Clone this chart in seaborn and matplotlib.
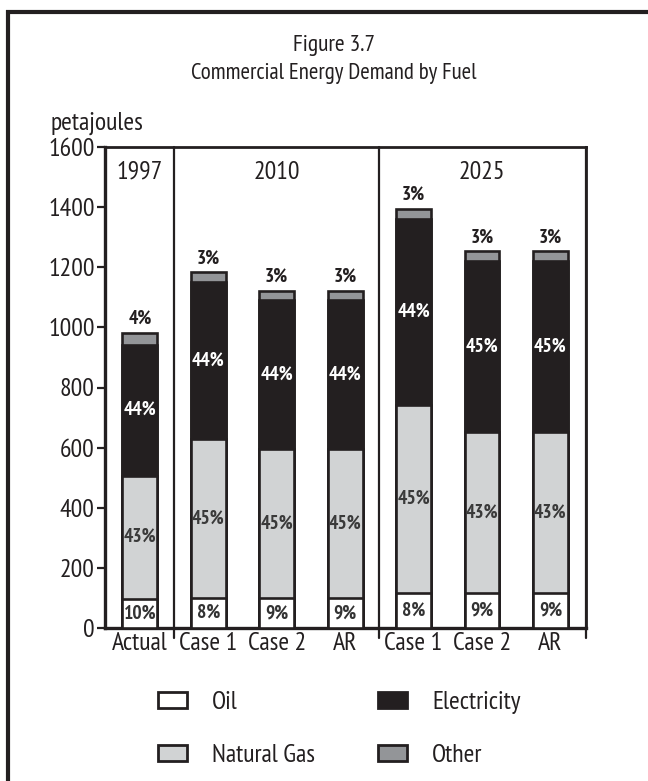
import matplotlib
matplotlib.use("Agg")
import matplotlib.pyplot as plt
from matplotlib.patches import Patch
from matplotlib.lines import Line2D
import seaborn as sns
import pandas as pd

# ---- data ----
bar_ids = ["1997 Actual", "2010 Case 1", "2010 Case 2", "2010 AR",
           "2025 Case 1", "2025 Case 2", "2025 AR"]
tick_labels = ["Actual", "Case 1", "Case 2", "AR", "Case 1", "Case 2", "AR"]
year_labels = ["1997", "2010", "2025"]
oil = [97, 99, 99, 99, 117, 117, 117]
natural_gas = [410, 530, 496, 496, 624, 535, 535]
electricity = [436, 521, 497, 497, 620, 568, 568]
other = [39, 33, 30, 30, 33, 33, 33]
oil_pct = ["10%", "8%", "9%", "9%", "8%", "9%", "9%"]
gas_pct = ["43%", "45%", "45%", "45%", "45%", "43%", "43%"]
elec_pct = ["44%", "44%", "44%", "44%", "44%", "45%", "45%"]
other_pct = ["4%", "3%", "3%", "3%", "3%", "3%", "3%"]
yticks = [0, 200, 400, 600, 800, 1000, 1200, 1400, 1600]

sns.set_theme(style="white")
plt.rcParams["font.family"] = ["PT Sans Narrow", "DejaVu Sans"]
plt.rcParams["font.stretch"] = "condensed"

INK = "#231f20"
C_OIL = "#ffffff"
C_GAS = "#d1d3d4"
C_ELEC = "#231f20"
C_OTHER = "#939598"

df = pd.DataFrame({"bar": bar_ids, "oil": oil, "gas": natural_gas,
                   "elec": electricity, "other": other})
df["c_gas"] = df["oil"] + df["gas"]
df["c_elec"] = df["c_gas"] + df["elec"]
df["c_other"] = df["c_elec"] + df["other"]

fig = plt.figure(figsize=(6.48, 7.81), dpi=100)
ax = fig.add_axes([105/648, 1-628/781, (586-105)/648, (628-147)/781])

bw = 0.51
lw = 1.9
for col, colr in [("c_other", C_OTHER), ("c_elec", C_ELEC), ("c_gas", C_GAS), ("oil", C_OIL)]:
    sns.barplot(data=df, x="bar", y=col, order=bar_ids, color=colr, width=bw,
                edgecolor=INK, linewidth=lw, saturation=1, ax=ax, zorder=3)

FS = 18.5
ax.set_xlim(-0.51, 6.52)
ax.set_ylim(0, 1600)
ax.set_yticks(yticks)
ax.set_yticklabels([str(v) for v in yticks])
ax.set_xticks(range(len(bar_ids)))
ax.set_xticklabels(tick_labels)
ax.set_xlabel("")
ax.set_ylabel("")
ax.tick_params(axis="y", direction="out", length=6, width=1.6, color=INK,
               labelsize=FS, pad=1.5, labelcolor=INK, left=True)
ax.tick_params(axis="x", length=0, labelsize=FS, pad=3.2, labelcolor=INK)
for s in ax.spines.values():
    s.set_color(INK)
    s.set_linewidth(2.0)
ax.spines["left"].set_linewidth(2.4)
ax.spines["bottom"].set_linewidth(2.4)

for xv in [0.5, 3.5, 6.52]:
    ax.axvline(xv, ymin=-0.02, ymax=1, color=INK, lw=1.6, clip_on=False, zorder=4)

for xc, t in zip([0, 2, 5], year_labels):
    ax.text(xc, 0.948, t, transform=ax.get_xaxis_transform(), ha="center",
            va="center", fontsize=FS, color=INK)

PS = 14
for i in range(len(bar_ids)):
    o = df["oil"][i]; g = df["c_gas"][i]; e = df["c_elec"][i]; t = df["c_other"][i]
    ax.text(i, o/2, oil_pct[i], ha="center", va="center", fontsize=PS,
            fontweight="bold", color="#333333", zorder=5)
    ax.text(i, (o+g)/2, gas_pct[i], ha="center", va="center", fontsize=PS,
            fontweight="bold", color="#3a3a3a", zorder=5)
    ax.text(i, (g+e)/2, elec_pct[i], ha="center", va="center", fontsize=PS,
            fontweight="bold", color="white", zorder=5)
    ax.annotate(other_pct[i], (i, t), xytext=(0, 10), textcoords="offset points",
                ha="center", va="center", fontsize=PS, fontweight="bold", color=INK)

fig.text(334/648, 1-46/781, "Figure 3.7", ha="center", va="center",
         fontsize=17, color=INK)
fig.text(334/648, 1-73/781, "Commercial Energy Demand by Fuel", ha="center",
         va="center", fontsize=16.5, color=INK)
fig.text(50/648, 1-123/781, "petajoules", ha="left", va="center",
         fontsize=FS, color=INK)

handles = [Patch(facecolor=C_OIL, edgecolor=INK, lw=2, label="Oil"),
           Patch(facecolor=C_GAS, edgecolor=INK, lw=2, label="Natural Gas"),
           Patch(facecolor=C_ELEC, edgecolor=INK, lw=2, label="Electricity"),
           Patch(facecolor=C_OTHER, edgecolor=INK, lw=2, label="Other")]
fig.legend(handles=handles, ncol=2, loc="upper left",
           bbox_to_anchor=(158/648, 1-691/781), frameon=False,
           fontsize=FS, handlelength=1.13, handleheight=0.55,
           handletextpad=0.97, columnspacing=2.46, labelspacing=1.18,
           borderpad=0, borderaxespad=0, labelcolor=INK)

fig.add_artist(Line2D([6/648, 1], [1-12/781, 1-12/781], color=INK, lw=3,
                      transform=fig.transFigure, solid_capstyle="butt"))
fig.add_artist(Line2D([8/648, 8/648], [0, 1-10/781], color=INK, lw=3,
                      transform=fig.transFigure, solid_capstyle="butt"))

fig.savefig("out.png", dpi=100, facecolor="white")
